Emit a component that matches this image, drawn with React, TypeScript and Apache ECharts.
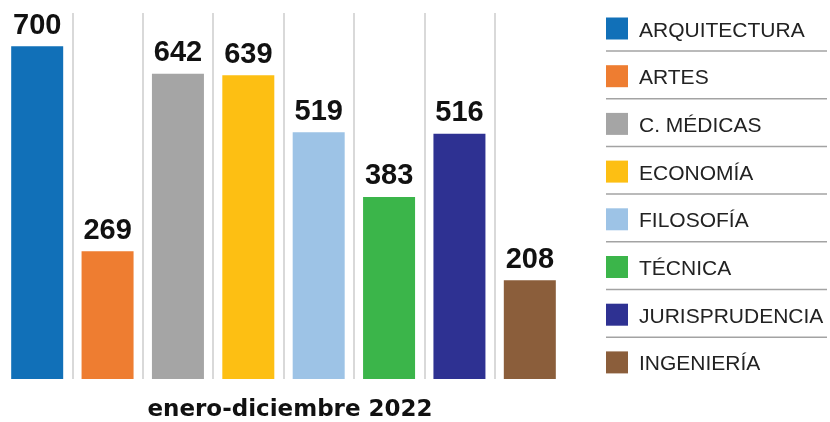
import React, { useEffect, useRef } from "react";
import * as echarts from "echarts";

const categories = ["ARQUITECTURA", "ARTES", "C. MÉDICAS", "ECONOMÍA", "FILOSOFÍA", "TÉCNICA", "JURISPRUDENCIA", "INGENIERÍA"];
const values = [700, 269, 642, 639, 519, 383, 516, 208];
const colors = ["#1170b8", "#ee7d31", "#a5a5a5", "#fdbf13", "#9dc3e6", "#3bb54a", "#2e3192", "#8b5e3b"];
const periodLabel = "enero-diciembre 2022";

export default function App() {
  const ref = useRef<HTMLDivElement>(null);
  useEffect(() => {
    if (!ref.current) return;
    const chart = echarts.init(ref.current, null, { renderer: "svg" });
    const rowH = 47.7;
    const legend: any[] = [];
    categories.forEach((c, i) => {
      legend.push({
        type: "rect",
        shape: { x: 606, y: 17.5 + i * rowH, width: 22, height: 22 },
        style: { fill: colors[i] },
      });
      legend.push({
        type: "text",
        x: 639,
        y: 29 + i * rowH,
        style: {
          text: c,
          fill: "#222",
          fontSize: 21,
          fontFamily: '"Liberation Sans", Arial, sans-serif',
          verticalAlign: "middle",
        },
      });
      if (i < categories.length - 1) {
        legend.push({
          type: "line",
          shape: { x1: 606, y1: 51 + i * rowH, x2: 827, y2: 51 + i * rowH },
          style: { stroke: "#a3a3a3", lineWidth: 1.5 },
        });
      }
    });
    legend.push({
      type: "text",
      x: 290,
      y: 408,
      style: {
        text: periodLabel,
        fill: "#111",
        fontSize: 23,
        fontWeight: "bold",
        fontFamily: '"DejaVu Sans", sans-serif',
        align: "center",
        verticalAlign: "middle",
      },
    });
    chart.setOption({
      animation: false,
      grid: { left: 2, right: 265, top: 13, bottom: 43 },
      xAxis: {
        type: "category",
        data: categories,
        axisLine: { show: false },
        axisTick: { show: false },
        axisLabel: { show: false },
        splitLine: {
          show: true,
          interval: 0,
          showMinLine: false,
          showMaxLine: false,
          lineStyle: { color: "#d9d9d9", width: 2 },
        },
      },
      yAxis: { type: "value", min: 0, max: 770, show: false, splitLine: { show: false } },
      series: [
        {
          type: "bar",
          barWidth: 52,
          data: values.map((v, i) => ({ value: v, itemStyle: { color: colors[i] } })),
          label: {
            show: true,
            position: "top",
            distance: 8,
            color: "#111",
            fontSize: 29,
            fontWeight: "bold",
            fontFamily: '"Liberation Sans", Arial, sans-serif',
          },
        },
      ],
      graphic: legend,
    });
    return () => chart.dispose();
  }, []);
  return <div ref={ref} style={{ position: "fixed", left: 0, top: 0, width: 830, height: 422 }} />;
}
